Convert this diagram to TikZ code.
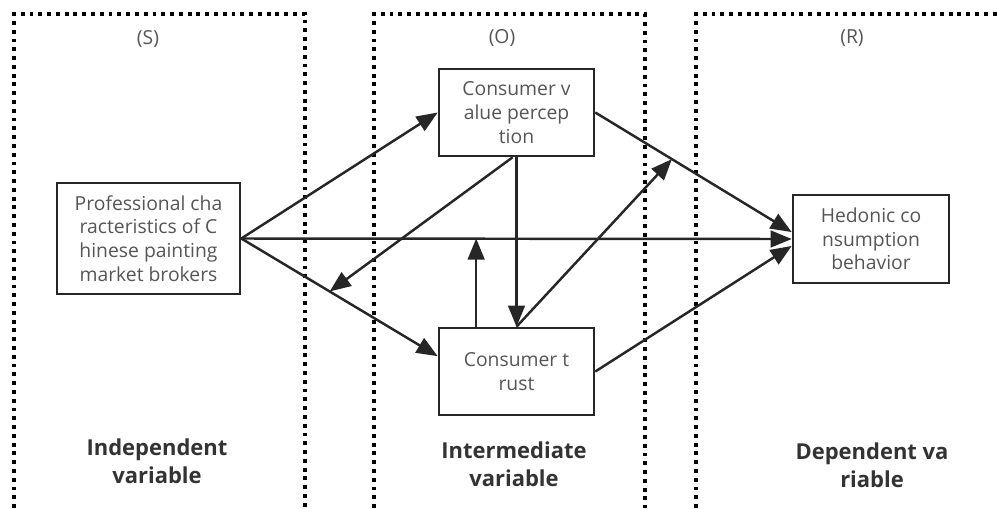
\documentclass[tikz,border=0pt]{standalone}
\usepackage{fontspec}
\setmainfont{Open Sans}
\usetikzlibrary{arrows.meta}

\definecolor{linegray}{HTML}{262626}
\definecolor{textgray}{HTML}{555555}
\definecolor{labelgray}{HTML}{333333}

\tikzset{
	varbox/.style={draw=linegray, line width=1.5pt, minimum width=3.1cm, minimum height=1.74cm,
		inner sep=0pt, align=center, text=textgray, font=\fontsize{11}{13.5}\selectfont},
	panel/.style={draw=black, line width=1.9pt, dash pattern=on 2.2pt off 2.8pt},
	link/.style={color=linegray, line width=1.4pt, -{Triangle[length=12pt,width=9.5pt]}},
	tag/.style={text=textgray, font=\fontsize{11}{13}\selectfont},
	kind/.style={text=labelgray, align=center, font=\bfseries\fontsize{12.5}{16}\selectfont}
}

\begin{document}
\begin{tikzpicture}[x=0.02cm,y=-0.02cm]
	\useasboundingbox (0,0) rectangle (997,508);
	
	\draw[panel] (14,508) -- (14,14) -- (305,14) -- (305,508);
	\draw[panel] (374,508) -- (374,14) -- (645,14) -- (645,508);
	\draw[panel] (696,508) -- (696,14) -- (1000,14);
	
	\node[tag] (s) at (148,39) {(S)};
	\node[tag] (o) at (502,38) {(O)};
	\node[tag] (r) at (852,38) {(R)};
	
	\node[varbox, minimum width=3.66cm, minimum height=2.22cm] (pro) at (148.5,238.5) {Professional cha\\racteristics of C\\hinese painting\\market brokers};
	\node[varbox] (val) at (516.5,112.5) {Consumer v\\alue percep\\tion};
	\node[varbox] (tru) at (516.5,371.5) {Consumer t\\rust};
	\node[varbox, minimum width=3.12cm, minimum height=1.76cm] (hed) at (871,239) {Hedonic co\\nsumption\\behavior};
	
	\node[kind] (iv) at (157,461) {Independent\\variable};
	\node[kind] (mv) at (514,464) {Intermediate\\variable};
	\node[kind] (dv) at (872,465) {Dependent va\\riable};
	
	\path (pro.east) -- (tru.169) coordinate[pos=0.45] (m1);
	\path (val.east) -- (hed.175) coordinate[pos=0.39] (m2);
	
	\path [link] (pro.east) edge (val.west);
	\path [link] (pro.east) edge (hed.west);
	\path [link] (pro.east) edge (tru.169);
	\path [link] (val.265) edge (m1);
	\path [link] (val.south) edge (tru.north);
	\path [link] (tru.north) edge (m2);
	\path [link] (val.east) edge (hed.175);
	\path [link] (tru.east) edge (hed.185);
	\path [link] (tru.132) edge (tru.132 |- pro.east);
\end{tikzpicture}
\end{document}
